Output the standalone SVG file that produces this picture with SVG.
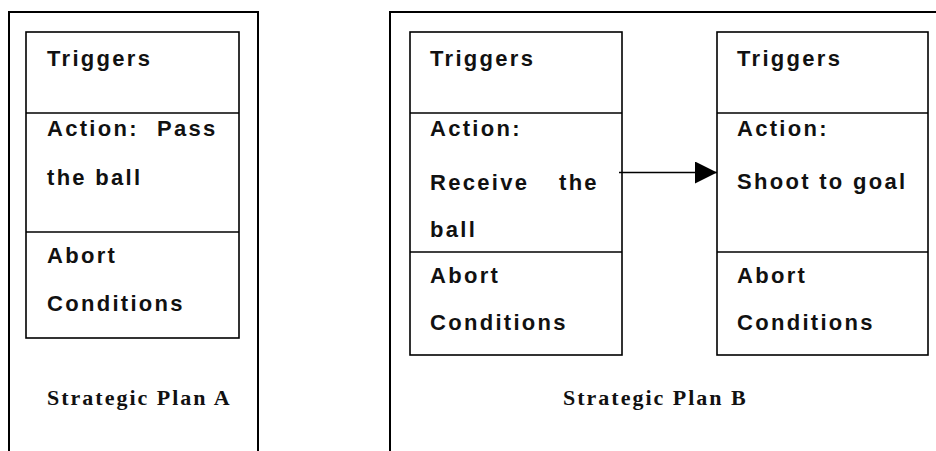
<svg xmlns="http://www.w3.org/2000/svg" width="936" height="451" viewBox="0 0 936 451">
  <style>
    .frame { fill: none; stroke: #000; stroke-width: 2; }
    .box { fill: #fff; stroke: #000; stroke-width: 1.6; }
    .rule { stroke: #000; stroke-width: 1.6; }
    .lbl { font-family: "Liberation Sans", Arial, sans-serif; font-weight: bold; font-size: 22px; letter-spacing: 2.3px; fill: #111; }
    .cap { font-family: "Liberation Serif", "Times New Roman", serif; font-weight: bold; font-size: 22px; letter-spacing: 2px; fill: #111; }
    .conn { stroke: #000; stroke-width: 1.6; fill: none; }
  </style>
  <defs>
    <marker id="head" viewBox="0 0 22 22" refX="22" refY="11" markerWidth="22" markerHeight="22" markerUnits="userSpaceOnUse" orient="auto">
      <path d="M0,0 L22,11 L0,22 Z" fill="#000"/>
    </marker>
  </defs>

  <rect width="936" height="451" fill="#fff"/>

  <!-- Plan A frame (open at the bottom) -->
  <g id="planA">
    <path class="frame" d="M9,451 V12 H258 V451"/>
    <text class="cap" x="47" y="405">Strategic Plan A</text>
  </g>

  <!-- Plan B frame (open at bottom and right) -->
  <g id="planB">
    <path class="frame" d="M390,451 V12 H936"/>
    <text class="cap" x="563" y="405">Strategic Plan B</text>
  </g>

  <!-- Behaviour card: pass -->
  <g id="cardPass">
    <rect class="box" x="26" y="32" width="213" height="306"/>
    <line class="rule" x1="26" y1="113" x2="239" y2="113"/>
    <line class="rule" x1="26" y1="232" x2="239" y2="232"/>
    <text class="lbl" x="47" y="66">Triggers</text>
    <text class="lbl" x="47" y="136">Action:</text>
    <text class="lbl" x="157" y="136">Pass</text>
    <text class="lbl" x="47" y="185">the ball</text>
    <text class="lbl" x="47" y="263">Abort</text>
    <text class="lbl" x="47" y="311">Conditions</text>
  </g>

  <!-- Behaviour card: receive -->
  <g id="cardReceive">
    <rect class="box" x="410" y="32" width="212" height="323"/>
    <line class="rule" x1="410" y1="113" x2="622" y2="113"/>
    <line class="rule" x1="410" y1="252" x2="622" y2="252"/>
    <text class="lbl" x="430" y="66">Triggers</text>
    <text class="lbl" x="430" y="136">Action:</text>
    <text class="lbl" x="430" y="190">Receive</text>
    <text class="lbl" x="559" y="190">the</text>
    <text class="lbl" x="430" y="237">ball</text>
    <text class="lbl" x="430" y="283">Abort</text>
    <text class="lbl" x="430" y="330">Conditions</text>
  </g>

  <!-- Behaviour card: shoot -->
  <g id="cardShoot">
    <rect class="box" x="717" y="32" width="211" height="323"/>
    <line class="rule" x1="717" y1="113" x2="928" y2="113"/>
    <line class="rule" x1="717" y1="252" x2="928" y2="252"/>
    <text class="lbl" x="737" y="66">Triggers</text>
    <text class="lbl" x="737" y="136">Action:</text>
    <text class="lbl" x="737" y="189">Shoot to goal</text>
    <text class="lbl" x="737" y="283">Abort</text>
    <text class="lbl" x="737" y="330">Conditions</text>
  </g>

  <!-- Connectors -->
  <g id="connectors">
    <line class="conn" x1="619" y1="172.5" x2="717" y2="172.5" marker-end="url(#head)"/>
  </g>
</svg>
